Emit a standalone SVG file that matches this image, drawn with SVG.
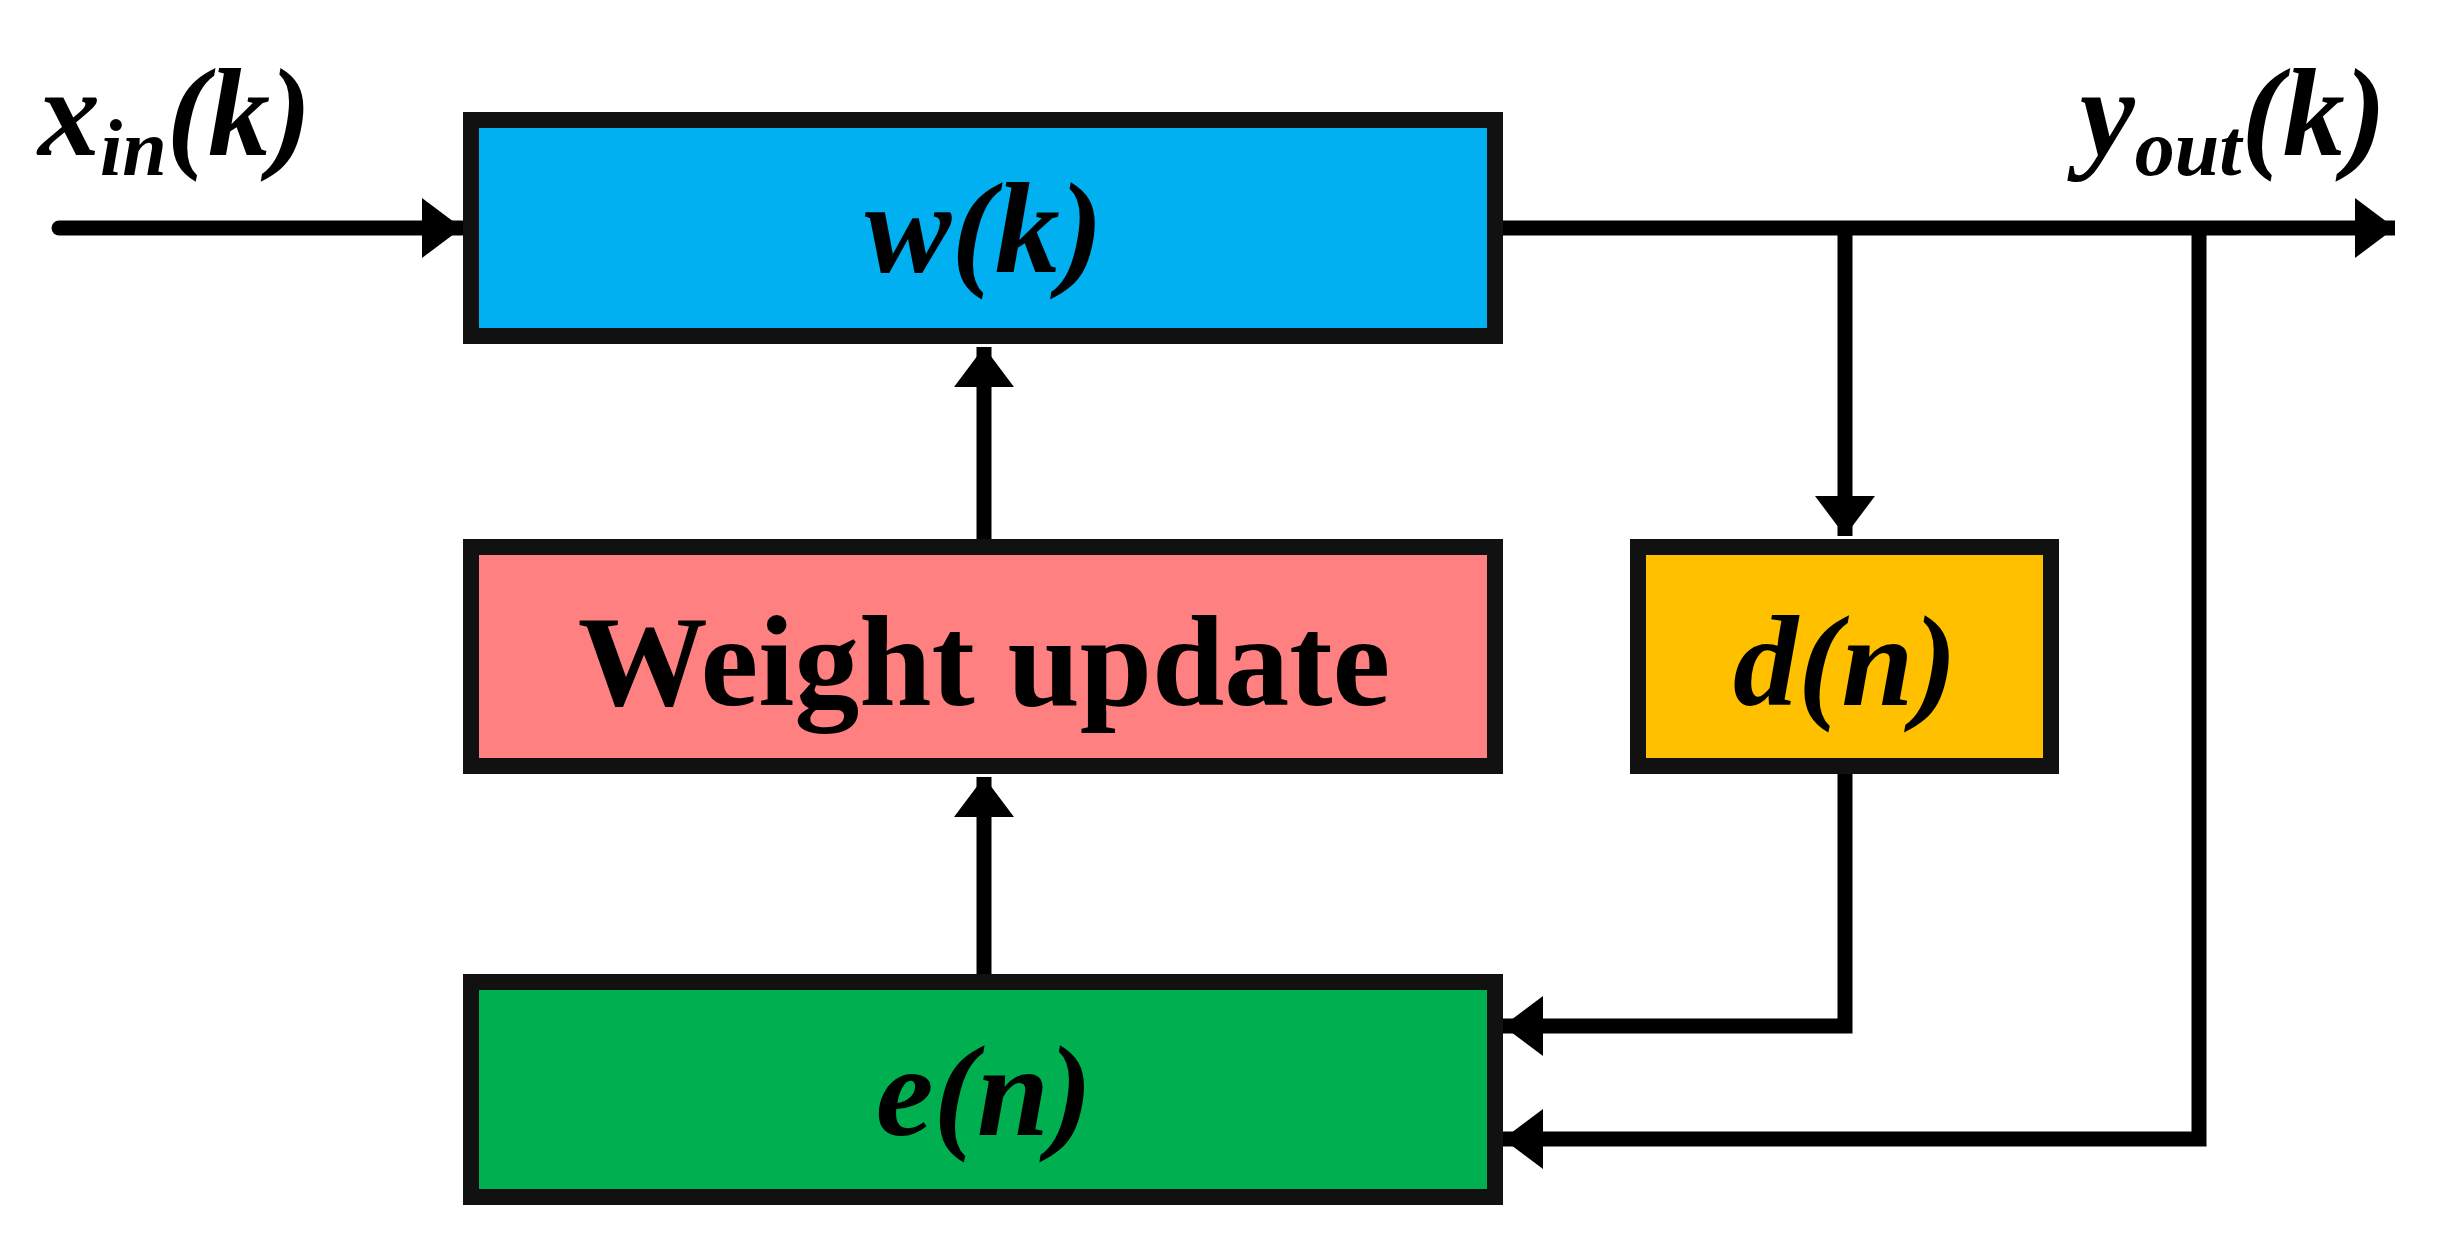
<svg xmlns="http://www.w3.org/2000/svg" width="2437" height="1239" viewBox="0 0 2437 1239">
<style>
.box{stroke:#111;stroke-width:16}
.ln{stroke:#000;stroke-width:15;fill:none}
.t{font-family:"Liberation Serif",serif;font-weight:bold;font-style:italic;fill:#000}
</style>
<defs><marker id="a" markerUnits="userSpaceOnUse" markerWidth="50" markerHeight="60" refX="40" refY="30" orient="auto"><path d="M0,0 L40,30 L0,60 Z" fill="#000"/></marker></defs>
<rect width="2437" height="1239" fill="#fff"/>
<g id="connectors">
<path class="ln" d="M59,228 H462" marker-end="url(#a)" stroke-linecap="round"/>
<path class="ln" d="M1495,228 H2395" marker-end="url(#a)"/>
<path class="ln" d="M1845,228 V536" marker-end="url(#a)"/>
<path class="ln" d="M2199,228 V1139 H1503" marker-end="url(#a)"/>
<path class="ln" d="M1845,769 V1026 H1503" marker-end="url(#a)"/>
<path class="ln" d="M984,979 V777" marker-end="url(#a)"/>
<path class="ln" d="M984,544 V347" marker-end="url(#a)"/>
</g>
<g id="n_w"><rect class="box" x="471" y="120" width="1024" height="216" fill="#00B0F0"/><text class="t" x="984" y="272" font-size="130" text-anchor="middle">w(k)</text></g>
<g id="n_wu"><rect class="box" x="471" y="547" width="1024" height="219" fill="#FF8080"/><text x="984" y="705" font-size="130" text-anchor="middle" font-family="Liberation Serif,serif" font-weight="bold">Weight update</text></g>
<g id="n_d"><rect class="box" x="1638" y="547" width="413" height="219" fill="#FFC000"/><text class="t" x="1845" y="705" font-size="130" text-anchor="middle">d(n)</text></g>
<g id="n_e"><rect class="box" x="471" y="982" width="1024" height="215" fill="#00B050"/><text class="t" x="984" y="1135" font-size="130" text-anchor="middle">e(n)</text></g>
<g id="labels">
<text class="t" x="38" y="155" font-size="124">x<tspan font-size="80" dy="20">in</tspan><tspan dy="-20">(k)</tspan></text>
<text class="t" x="2386" y="155" font-size="124" text-anchor="end">y<tspan font-size="80" dy="20">out</tspan><tspan dy="-20">(k)</tspan></text>
</g>
</svg>
